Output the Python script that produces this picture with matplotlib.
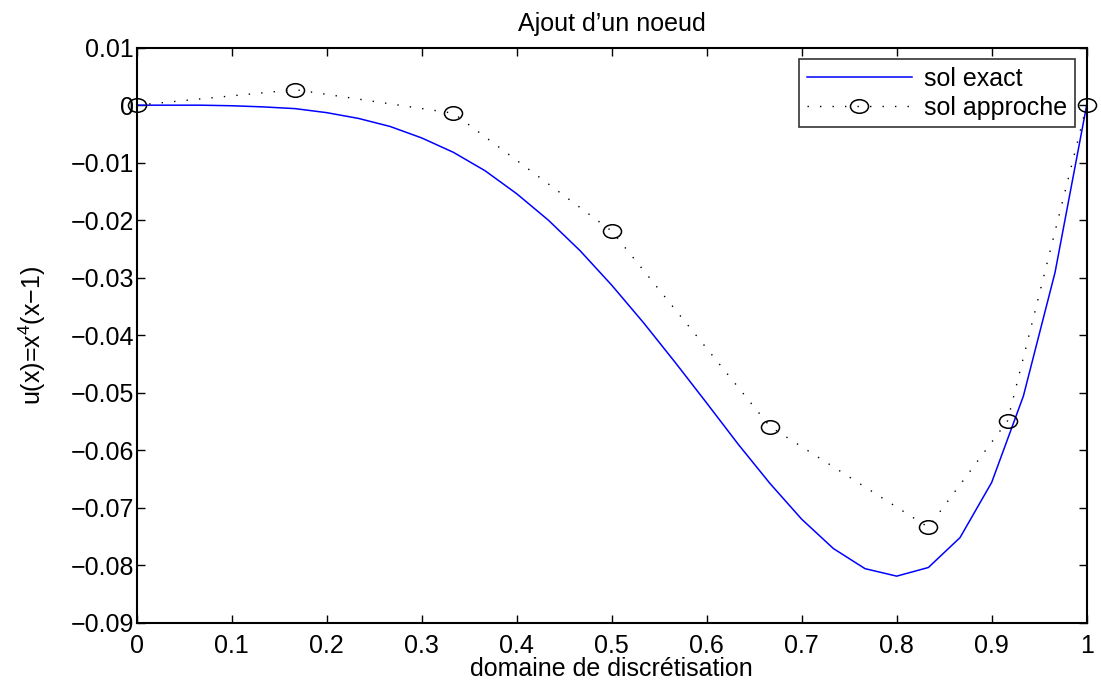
import numpy as np
import matplotlib
matplotlib.use('Agg')
import matplotlib.pyplot as plt
from matplotlib.path import Path
from matplotlib.ticker import FuncFormatter

plt.rcParams['font.family'] = ['Liberation Sans', 'DejaVu Sans']
plt.rcParams['mathtext.fontset'] = 'custom'
plt.rcParams['mathtext.rm'] = 'Liberation Sans'
plt.rcParams['mathtext.it'] = 'Liberation Sans'

x_exact = [k / 30 for k in range(31)]
u_exact = [0.0, -0.0000, -0.0000, -0.0001, -0.0003, -0.0006, -0.0013, -0.0023,
           -0.0037, -0.0057, -0.0082, -0.0114, -0.0154, -0.0200, -0.0253,
           -0.0313, -0.0378, -0.0447, -0.0518, -0.0590, -0.0658, -0.0720,
           -0.0771, -0.0806, -0.0819, -0.0804, -0.0752, -0.0656, -0.0506,
           -0.0291, 0.0]

# solution approchee aux noeuds
x_nodes = [0, 1/6, 2/6, 3/6, 4/6, 5/6, 11/12, 1]
u_nodes = [0.0, 0.0027, -0.0014, -0.0219, -0.0559, -0.0734, -0.0549, 0.0]

x_ticks = [0, 0.1, 0.2, 0.3, 0.4, 0.5, 0.6, 0.7, 0.8, 0.9, 1]
y_ticks = [0.01, 0, -0.01, -0.02, -0.03, -0.04, -0.05, -0.06, -0.07, -0.08, -0.09]

fs = 18

# cercle un peu aplati comme dans matlab
circ = Path.unit_circle()
ellipse = Path(circ.vertices * np.array([1.0, 0.75]), circ.codes)

fig = plt.figure(figsize=(11.01, 6.84), dpi=100)
ax = fig.add_axes([0.1242, 0.0896, 0.8628, 0.8407])

ax.plot(x_exact, u_exact, color='#0000ff', lw=1.1, label='sol exact')
ax.plot(x_nodes, u_nodes, color='black', lw=1.0, linestyle=(0, (1, 8)),
        marker=ellipse, markersize=13, markerfacecolor='none',
        markeredgecolor='black', markeredgewidth=1.1,
        clip_on=False, label='sol approche')

ax.set_xlim(0, 1)
ax.set_ylim(-0.09, 0.01)
ax.set_xticks(x_ticks)
ax.set_yticks(y_ticks)
fmt = FuncFormatter(lambda v, p: ('%g' % round(v, 4)).replace('-', '\u2212'))
ax.xaxis.set_major_formatter(fmt)
ax.yaxis.set_major_formatter(fmt)
ax.tick_params(direction='in', length=6, width=1, labelsize=fs,
               top=True, right=True)
ax.tick_params(axis='y', pad=2)
ax.tick_params(axis='x', pad=8)
for s in ax.spines.values():
    s.set_linewidth(1.5)

ax.set_title('Ajout d\u2019un noeud', fontsize=fs, pad=12)
ax.set_xlabel('domaine de discrétisation', fontsize=fs, va='baseline')
ax.xaxis.set_label_coords(0.5, -0.0927)
ax.set_ylabel('u(x)=x$^4$(x\u22121)', fontsize=fs)
ax.yaxis.set_label_coords(-0.093, 0.5)

leg = ax.legend(loc='upper right', fontsize=fs, frameon=True, fancybox=False,
                edgecolor='black', handlelength=4.2, borderaxespad=0.47,
                labelspacing=0.2, borderpad=0.3, handletextpad=0.5)
leg.get_frame().set_linewidth(1.2)

fig.savefig('out.png', dpi=100)
